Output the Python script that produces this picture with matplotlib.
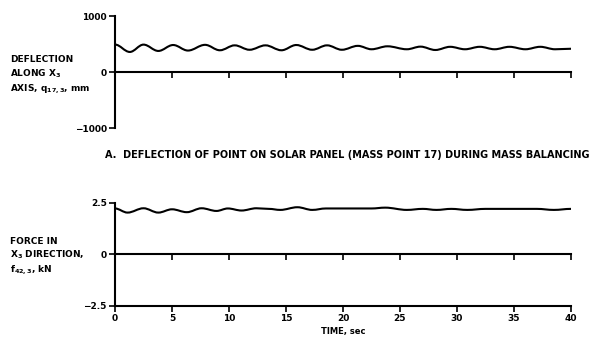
import matplotlib.pyplot as plt
from matplotlib.path import Path
from matplotlib.patches import PathPatch

# deflection of mass point 17 along X3, turning points (mm)
t_defl = [0, 1.3, 2.5, 3.8, 5.1, 6.4, 7.9, 9.2, 10.5, 11.8, 13.2, 14.6, 15.9, 17.3,
          18.6, 19.9, 21.3, 22.5, 23.9, 25.6, 26.8, 28.1, 29.4, 30.7, 32.0, 33.3,
          34.6, 36.0, 37.3, 38.6, 40]
q_defl = [490, 358, 489, 376, 482, 383, 485, 388, 476, 397, 476, 388, 482, 397,
          476, 397, 467, 406, 459, 406, 453, 393, 450, 406, 450, 406, 450, 406,
          450, 406, 415]

# force in X3 direction at point 42 (kN)
t_force = [0, 1.1, 2.5, 3.8, 5.0, 6.3, 7.6, 8.9, 9.9, 11.1, 12.4, 13.5, 14.5, 16.0,
           17.3, 18.5, 22.5, 23.7, 25.6, 27.0, 28.2, 29.5, 30.9, 32.5, 37.0, 38.5, 40]
f_force = [2.22, 2.02, 2.23, 2.02, 2.18, 2.04, 2.23, 2.10, 2.22, 2.12, 2.23, 2.20,
           2.15, 2.28, 2.15, 2.22, 2.22, 2.26, 2.15, 2.20, 2.15, 2.20, 2.15, 2.20,
           2.20, 2.15, 2.20]

x_ticks = [0, 5, 10, 15, 20, 25, 30, 35, 40]

FONT = dict(family='DejaVu Sans', fontweight='bold')
LW = 1.5


def smooth_trace(ax, t, v):
    # pen-recorder look: bezier segments with flat tangents at each turning point
    verts = [(t[0], v[0])]
    codes = [Path.MOVETO]
    for i in range(1, len(t)):
        dt = t[i] - t[i - 1]
        verts += [(t[i - 1] + 0.36 * dt, v[i - 1]), (t[i] - 0.36 * dt, v[i]), (t[i], v[i])]
        codes += [Path.CURVE4] * 3
    ax.add_patch(PathPatch(Path(verts, codes), fill=False, lw=LW, color='black',
                           transform=ax.transData, capstyle='round'))


def style(ax, ylim, yticks, ylabels):
    ax.set_xlim(0, 40)
    ax.set_ylim(*ylim)
    ax.spines[['top', 'right']].set_visible(False)
    for s in ax.spines.values():
        s.set_linewidth(LW)
    ax.set_xticks(x_ticks)
    ax.set_yticks(yticks)
    ax.set_yticklabels(ylabels, **FONT, fontsize=6.5)
    ax.tick_params(direction='out', length=4, width=1.2, pad=2)


plt.rcParams['mathtext.fontset'] = 'dejavusans'
fig = plt.figure(figsize=(5.94, 3.41), dpi=100)

# --- panel A
ax1 = fig.add_axes([115 / 594, 1 - 128 / 341, 456 / 594, 112 / 341])
style(ax1, (-1000, 1000), [-1000, 0, 1000], ['\u22121000', '0', '1000'])
ax1.spines['bottom'].set_position(('data', 0))
ax1.set_xticklabels([])
smooth_trace(ax1, t_defl, q_defl)

fig.text(10 / 594, 1 - 60 / 341, 'DEFLECTION', fontsize=6.5, va='center', **FONT)
fig.text(10 / 594, 1 - 74 / 341, 'ALONG X$_\\mathbf{3}$', fontsize=6.5, va='center', **FONT)
fig.text(10 / 594, 1 - 89 / 341, 'AXIS, q$_\\mathbf{17,3}$, mm', fontsize=6.5, va='center', **FONT)
fig.text(105 / 594, 1 - 155 / 341,
         'A.  DEFLECTION OF POINT ON SOLAR PANEL (MASS POINT 17) DURING MASS BALANCING',
         fontsize=7.0, va='center', **FONT)

# --- panel B
ax2 = fig.add_axes([115 / 594, 1 - 305.7 / 341, 456 / 594, 103 / 341])
style(ax2, (-2.5, 2.5), [-2.5, 0, 2.5], ['\u22122.5', '0', '2.5'])
ax2.set_xticklabels([str(v) for v in x_ticks], **FONT, fontsize=6.5)
ax2.set_xlabel('TIME, sec', **FONT, fontsize=6, labelpad=3)
zero = ax2.secondary_xaxis(0.5)
zero.set_xticks(x_ticks)
zero.set_xticklabels([])
zero.spines['top'].set_linewidth(LW)
zero.tick_params(direction='in', length=4, width=1.2)
smooth_trace(ax2, t_force, f_force)

fig.text(10 / 594, 1 - 241 / 341, 'FORCE IN', fontsize=6.5, va='center', **FONT)
fig.text(10 / 594, 1 - 255 / 341, 'X$_\\mathbf{3}$ DIRECTION,', fontsize=6.5, va='center', **FONT)
fig.text(10 / 594, 1 - 270 / 341, 'f$_\\mathbf{42,3}$, kN', fontsize=6.5, va='center', **FONT)

fig.savefig('out.png', dpi=100)
